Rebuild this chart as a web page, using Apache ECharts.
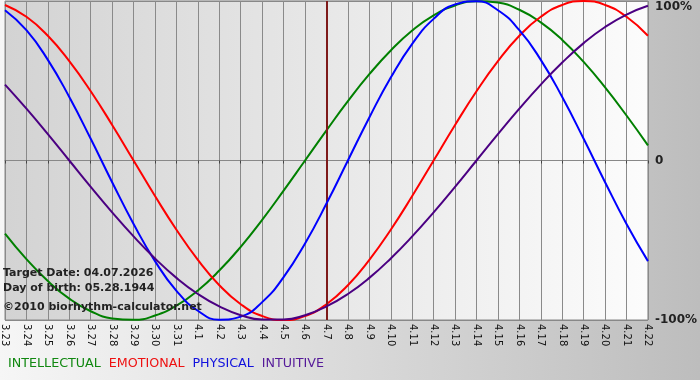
<!DOCTYPE html>
<html>
<head>
<meta charset="utf-8">
<script src="https://cdn.jsdelivr.net/npm/echarts@6/dist/echarts.min.js"></script>
<style>
html,body{margin:0;padding:0;background:#fff;}
#chart{width:700px;height:380px;}
</style>
</head>
<body>
<div id="chart"></div>
<script>
var days = ['3.23','3.24','3.25','3.26','3.27','3.28','3.29','3.30','3.31','4.1','4.2','4.3','4.4','4.5','4.6','4.7','4.8','4.9','4.10','4.11','4.12','4.13','4.14','4.15','4.16','4.17','4.18','4.19','4.20','4.21','4.22'];
var targetDay = '4.7';
var intellectual = [-45.8,-61.8,-75.6,-86.6,-94.5,-99.0,-99.9,-97.2,-91.0,-81.5,-69.0,-54.1,-37.2,-18.9,0,18.9,37.2,54.1,69.0,81.5,91.0,97.2,99.9,99.0,94.5,86.6,75.6,61.8,45.8,28.2,9.5];
var emotional = [97.5,90.1,78.2,62.3,43.4,22.3,0,-22.3,-43.4,-62.3,-78.2,-90.1,-97.5,-100,-97.5,-90.1,-78.2,-62.3,-43.4,-22.3,0,22.3,43.4,62.3,78.2,90.1,97.5,100,97.5,90.1,78.2];
var physical = [94.2,81.7,63.1,39.8,13.6,-13.6,-39.8,-63.1,-81.7,-94.2,-99.8,-97.9,-88.8,-73.1,-52.0,-27.0,0,27.0,52.0,73.1,88.8,97.9,99.8,94.2,81.7,63.1,39.8,13.6,-13.6,-39.8,-63.1];
var intuitive = [47.6,32.5,16.5,0,-16.5,-32.5,-47.6,-61.4,-73.6,-83.7,-91.5,-97.0,-99.7,-99.7,-97.0,-91.5,-83.7,-73.6,-61.4,-47.6,-32.5,-16.5,0,16.5,32.5,47.6,61.4,73.6,83.7,91.5,97.0];
var seriesNames = ['INTELLECTUAL','EMOTIONAL','PHYSICAL','INTUITIVE'];
var seriesColors = ['#008000','#ff0000','#0000ff','#4b0082'];
var legendColors = ['#118811','#ee1111','#1111dd','#551a99'];
var infoLines = ['Target Date: 04.07.2026','Day of birth: 05.28.1944','\u00a92010 biorhythm-calculator.net'];

var chart = echarts.init(document.getElementById('chart'), null, {renderer:'canvas'});
var FONT = 'DejaVu Sans';
var dataSets = [intellectual, emotional, physical, intuitive];
var series = dataSets.map(function(d, k){
  var s = {
    name: seriesNames[k], type: 'line', data: d, smooth: true,
    symbol: 'none', lineStyle: {color: seriesColors[k], width: 2},
    itemStyle: {color: seriesColors[k]}, z: 3 + k, animation: false
  };
  if (k === 0) {
    s.markLine = {
      silent: true, symbol: ['none','none'], label: {show: false},
      lineStyle: {color: '#7e1a1a', width: 2, type: 'solid'},
      emphasis: {disabled: true},
      data: [{xAxis: targetDay}]
    };
  }
  return s;
});

chart.setOption({
  animation: false,
  backgroundColor: new echarts.graphic.LinearGradient(0,0,1,0,[{offset:0,color:'#f6f6f6'},{offset:1,color:'#bdbdbd'}]),
  grid: {
    left: 0, right: 49, top: 1, bottom: 60, containLabel: false, show: true,
    backgroundColor: new echarts.graphic.LinearGradient(0,0,1,0,[{offset:0,color:'#d3d3d3'},{offset:1,color:'#fcfcfc'}]),
    borderColor: '#888', borderWidth: 1
  },
  legend: {
    left: -2, top: 352, icon: 'rect', itemWidth: 0, itemHeight: 0, itemGap: 3,
    selectedMode: false,
    textStyle: {fontFamily: FONT, fontSize: 12.7, padding: [0,0,0,0]},
    data: seriesNames.map(function(n, k){ return {name: n, textStyle: {color: legendColors[k]}}; })
  },
  xAxis: {
    type: 'category', data: days, boundaryGap: false,
    axisLine: {show: true, lineStyle: {color: '#888'}},
    axisTick: {show: true, length: 3, interval: 0, lineStyle: {color: '#444'}},
    axisLabel: {interval: 0, rotate: -90, margin: 4, fontFamily: FONT, fontSize: 10, color: '#111', hideOverlap: false},
    splitLine: {show: true, interval: 0, lineStyle: {color: '#8a8a8a', width: 1}}
  },
  yAxis: {
    type: 'value', position: 'right', min: -100, max: 100, interval: 100,
    axisLine: {show: false}, axisTick: {show: false},
    axisLabel: {
      margin: 7, fontFamily: FONT, fontSize: 12, fontWeight: 'bold', color: '#222',
      showMinLabel: true, showMaxLabel: true,
      formatter: function(v){ return v === 100 ? '{t|100%}' : (v === 0 ? '{n|0}' : '{n|' + v + '%}'); },
      rich: {
        t: {fontFamily: FONT, fontSize: 12, fontWeight: 'bold', color: '#222', padding: [12,0,0,0]},
        n: {fontFamily: FONT, fontSize: 12, fontWeight: 'bold', color: '#222'}
      }
    },
    splitLine: {show: true, lineStyle: {color: '#888', width: 1}}
  },
  graphic: infoLines.map(function(t, k){
    return {type: 'text', left: 3, top: [268, 283, 302][k], z: 100,
      style: {text: t, fill: '#222', font: 'bold 11px "DejaVu Sans"'}};
  }),
  series: series
});
</script>
</body>
</html>
